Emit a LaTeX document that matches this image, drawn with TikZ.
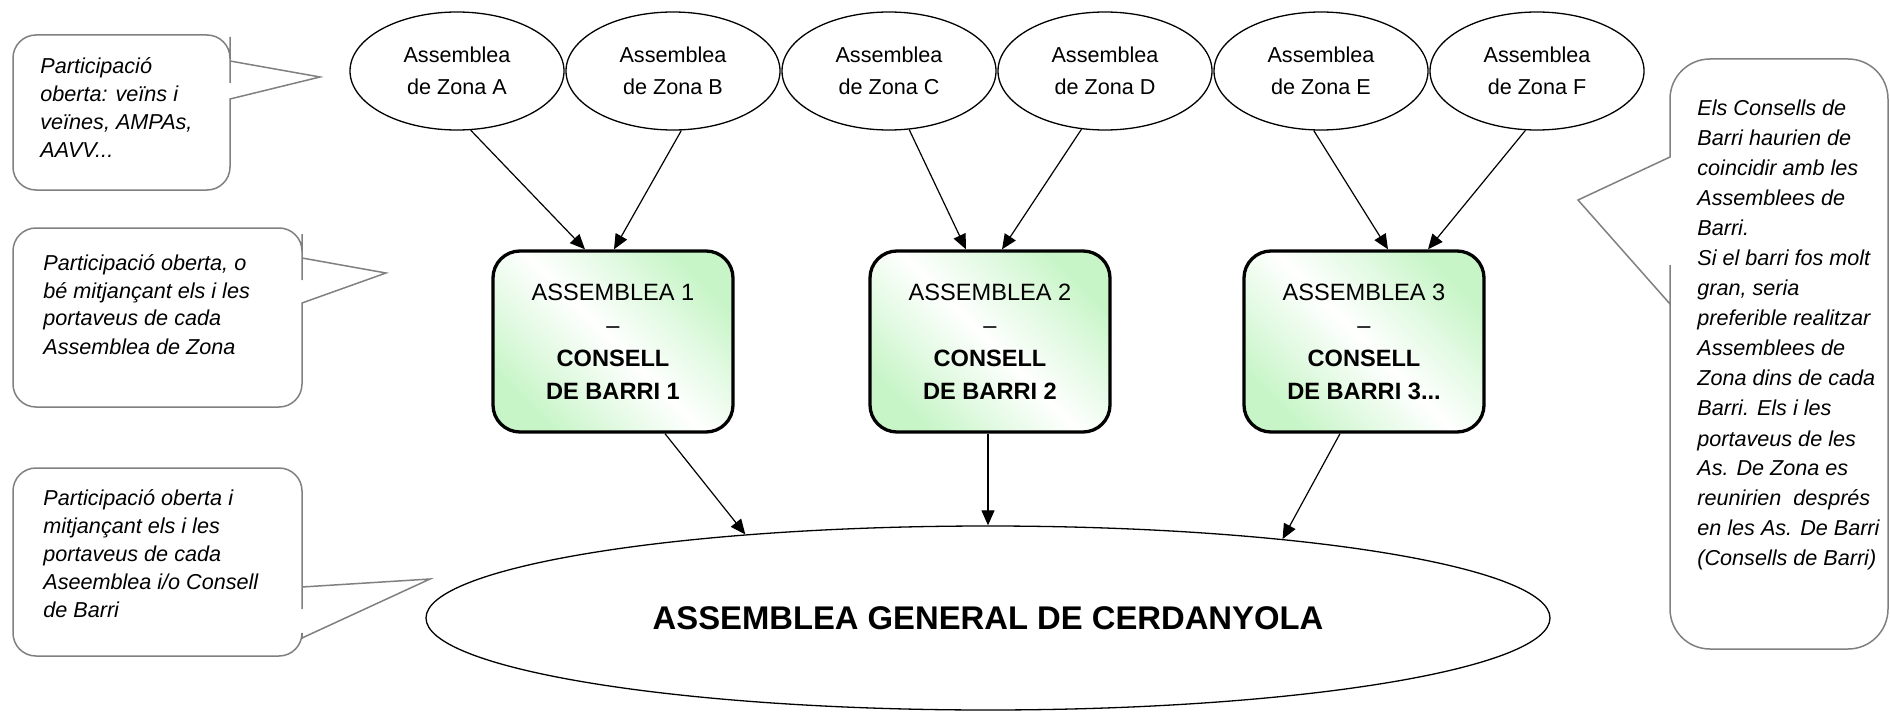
\documentclass[tikz,border=0pt]{standalone}
\usepackage{fontspec}
\setmainfont{Liberation Sans}
\usetikzlibrary{shapes.geometric,arrows.meta}
\definecolor{gfill}{RGB}{200,245,200}
\definecolor{cgray}{RGB}{128,128,128}
\begin{document}
\begin{tikzpicture}[x=0.5pt,y=-0.5pt,
  callout/.style={draw=cgray, line width=0.75pt, fill=white},
  btext/.style={inner sep=0pt, anchor=base west, font=\itshape\fontsize{10.8}{14}\selectfont},
  zone/.style={ellipse, draw, line width=0.65pt, minimum width=107pt, minimum height=59pt, inner sep=0pt, align=center, font=\fontsize{10.8}{16}\selectfont},
  stagebox/.style={draw, line width=1.65pt, rounded corners=13.5pt, minimum width=120pt, minimum height=90.5pt, inner sep=0pt, align=center, top color=gfill, bottom color=gfill, middle color=white, shading angle=-45, font=\fontsize{11.8}{16.5}\selectfont},
  general/.style={ellipse, draw, line width=0.65pt, minimum width=562pt, minimum height=92pt, inner sep=0pt, font=\bfseries\fontsize{16.4}{20}\selectfont},
  arr/.style={-{Triangle[length=7.5pt,width=6.5pt]}, line width=0.6pt}
]
\useasboundingbox (0,0) rectangle (1890,717);

% callouts
\draw[callout] (230,61) -- (320,77) -- (230,99) -- (230,100) [rounded corners=11.5pt] -- (230,190) -- (13,190) -- (13,35) -- (230,35) -- (230,60) [sharp corners] -- cycle;
\draw[callout] (302,258) -- (386,273) -- (302,303) -- (302,304) [rounded corners=11.5pt] -- (302,407) -- (13,407) -- (13,228) -- (302,228) -- (302,257) [sharp corners] -- cycle;
\draw[callout] (302,587) -- (430,579) -- (302,638) -- (302,639) [rounded corners=11.5pt] -- (302,656) -- (13,656) -- (13,468) -- (302,468) -- (302,586) [sharp corners] -- cycle;
\draw[callout] (1670,304) -- (1578,200) -- (1670,157) -- (1670,156) [rounded corners=20pt] -- (1670,59) -- (1888,59) -- (1888,649) -- (1670,649) -- (1670,305) [sharp corners] -- cycle;

\node[btext] (t1) at (40,74) {\parbox[t]{110pt}{\raggedright Participació\\oberta: veïns i\\veïnes, AMPAs,\\AAVV...}};
\node[btext] (t2) at (43,270) {\parbox[t]{130pt}{\raggedright Participació oberta, o\\bé mitjançant els i les\\portaveus de cada\\Assemblea de Zona}};
\node[btext] (t3) at (43,505) {\parbox[t]{130pt}{\raggedright Participació oberta i\\mitjançant els i les\\portaveus de cada\\Aseemblea i/o Consell\\de Barri}};
\node[btext, font=\itshape\fontsize{10.8}{15}\selectfont] (t4) at (1697,116) {\parbox[t]{100pt}{\raggedright Els Consells de\\Barri haurien de\\coincidir amb les\\Assemblees de\\Barri.\\Si el barri fos molt\\gran, seria\\preferible realitzar\\Assemblees de\\Zona dins de cada\\Barri. Els i les\\portaveus de les\\As. De Zona es\\reunirien\ \ després\\en les As. De Barri\\(Consells de Barri)}};

% zone assemblies
\node[zone] (zA) at (457,71) {Assemblea\\de Zona A};
\node[zone] (zB) at (673,71) {Assemblea\\de Zona B};
\node[zone] (zC) at (889,71) {Assemblea\\de Zona C};
\node[zone] (zD) at (1105,71) {Assemblea\\de Zona D};
\node[zone] (zE) at (1321,71) {Assemblea\\de Zona E};
\node[zone] (zF) at (1537,71) {Assemblea\\de Zona F};

% neighbourhood assemblies
\node[stagebox] (b1) at (613,341.5) {ASSEMBLEA 1\\–\\\textbf{CONSELL}\\\textbf{DE BARRI 1}};
\node[stagebox] (b2) at (990,341.5) {ASSEMBLEA 2\\–\\\textbf{CONSELL}\\\textbf{DE BARRI 2}};
\node[stagebox] (b3) at (1364,341.5) {ASSEMBLEA 3\\–\\\textbf{CONSELL}\\\textbf{DE BARRI 3...}};

% general assembly
\node[general] (g) at (988,618) {ASSEMBLEA GENERAL DE CERDANYOLA};

% connectors
\draw[arr] (zA.-77.5) -- ([xshift=-14pt]b1.north);
\draw[arr] (zB.-82.3) -- ([xshift=0.5pt]b1.north);
\draw[arr] (zC.-71) -- ([xshift=-12pt]b2.north);
\draw[arr] (zD.-112.7) -- ([xshift=6pt]b2.north);
\draw[arr] (zE.-97.7) -- ([xshift=12pt]b3.north);
\draw[arr] (zF.-101.6) -- ([xshift=32pt]b3.north);

\draw[arr] ([xshift=26pt]b1.south) -- (g.161.6);
\draw[arr] ([xshift=-1pt]b2.south) -- (g.north);
\draw[arr] ([xshift=-12pt]b3.south) -- (g.15.1);
\end{tikzpicture}
\end{document}
